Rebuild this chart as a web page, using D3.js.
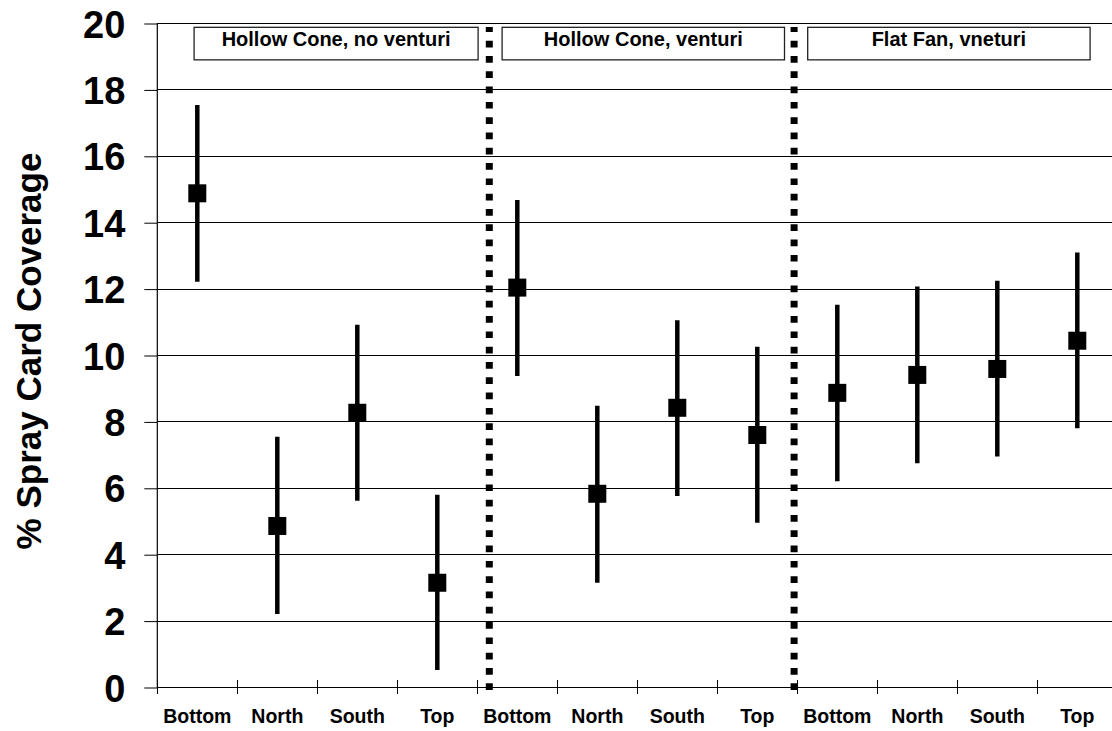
<!DOCTYPE html>
<html>
<head>
<meta charset="utf-8">
<script src="https://cdn.jsdelivr.net/npm/d3@7"></script>
<style>
    html, body { margin: 0; padding: 0; background: #fff; }
    #chart { width: 1112px; height: 731px; overflow: hidden; }
    text { font-family: Arial, "Liberation Sans", sans-serif; font-weight: bold; fill: #000; }
</style>
</head>
<body>
<div id="chart"></div>
<script>
// chart data
const groups = ['Hollow Cone, no venturi', 'Hollow Cone, venturi', 'Flat Fan, vneturi'];
const categories = ['Bottom', 'North', 'South', 'Top',
                    'Bottom', 'North', 'South', 'Top',
                    'Bottom', 'North', 'South', 'Top'];
const means = [14.87, 4.85, 8.26, 3.14, 12.03, 5.82, 8.41, 7.59, 8.86, 9.40, 9.58, 10.43];
const lows  = [12.21, 2.20, 5.61, 0.51, 9.37, 3.14, 5.75, 4.95, 6.20, 6.74, 6.94, 7.79];
const highs = [17.53, 7.54, 10.91, 5.79, 14.67, 8.47, 11.05, 10.25, 11.51, 12.06, 12.24, 13.09];
const yTicks = [0, 2, 4, 6, 8, 10, 12, 14, 16, 18, 20];
const yTitle = '% Spray Card Coverage';

class ErrorBarChart {
    constructor(containerId) {
        this.width = 1112;
        this.height = 731;
        this.left = 157.3;
        this.top = 23;
        this.bottom = 687;
        this.step = 80;

        this.svg = d3.select(`#${containerId}`)
            .append('svg')
            .attr('width', this.width)
            .attr('height', this.height);

        this.x = d3.scaleBand()
            .domain(d3.range(categories.length))
            .range([this.left, this.left + this.step * categories.length]);

        // continuous version of x, in category units, for boxes and separators
        this.xc = d3.scaleLinear()
            .domain([0, categories.length])
            .range([this.left, this.left + this.step * categories.length]);

        this.y = d3.scaleLinear()
            .domain([0, 20])
            .range([this.bottom, this.top]);
    }

    render() {
        this.drawGrid();
        this.drawAxes();
        this.drawSeparators();
        this.drawGroupBoxes();
        this.drawPoints();
        this.drawTitle();
    }

    drawGrid() {
        this.svg.append('g')
            .selectAll('line')
            .data(yTicks)
            .enter()
            .append('line')
            .attr('x1', this.left)
            .attr('x2', this.width)
            .attr('y1', d => Math.round(this.y(d)) + 0.5)
            .attr('y2', d => Math.round(this.y(d)) + 0.5)
            .attr('stroke', '#000')
            .attr('stroke-width', 1);
    }

    drawAxes() {
        const yAxis = d3.axisLeft(this.y)
            .tickValues(yTicks)
            .tickSize(13)
            .tickPadding(19)
            .tickFormat(d3.format('d'));

        const gy = this.svg.append('g')
            .attr('transform', `translate(${this.left},0.5)`)
            .call(yAxis);
        gy.select('.domain').remove();
        gy.selectAll('.tick line').attr('stroke', '#000');
        gy.selectAll('.tick text')
            .attr('font-size', '38px')
            .attr('dy', '0.36em');

        // y axis line
        this.svg.append('line')
            .attr('x1', this.left).attr('x2', this.left)
            .attr('y1', this.top).attr('y2', this.bottom + 1)
            .attr('stroke', '#000')
            .attr('stroke-width', 1.2);

        // category labels
        const xAxis = d3.axisBottom(this.x)
            .tickSize(0)
            .tickPadding(22.5)
            .tickFormat(i => categories[i]);

        const gx = this.svg.append('g')
            .attr('transform', `translate(0,${this.bottom})`)
            .call(xAxis);
        gx.select('.domain').remove();
        gx.selectAll('.tick text').attr('font-size', '19.5px');

        // tick marks on category boundaries
        this.svg.append('g')
            .selectAll('line')
            .data(d3.range(categories.length + 1))
            .enter()
            .append('line')
            .attr('x1', d => Math.round(this.xc(d)) + 0.5)
            .attr('x2', d => Math.round(this.xc(d)) + 0.5)
            .attr('y1', this.bottom - 7)
            .attr('y2', this.bottom + 7)
            .attr('stroke', '#000')
            .attr('stroke-width', 1);
    }

    drawSeparators() {
        const seps = [4.15, 7.96];
        this.svg.append('g')
            .selectAll('line')
            .data(seps)
            .enter()
            .append('line')
            .attr('x1', d => this.xc(d))
            .attr('x2', d => this.xc(d))
            .attr('y1', this.bottom + 3)
            .attr('y2', this.top + 4)
            .attr('stroke', '#000')
            .attr('stroke-width', 7)
            .attr('stroke-dasharray', '6.7 8.6');
    }

    drawGroupBoxes() {
        const spans = [[0.46, 4.01], [4.31, 7.84], [8.13, 11.66]];
        const yTop = this.y(19.87);
        const yBot = this.y(18.89);

        const box = this.svg.append('g')
            .selectAll('g')
            .data(groups)
            .enter()
            .append('g');

        box.append('rect')
            .attr('x', (d, i) => this.xc(spans[i][0]))
            .attr('y', yTop)
            .attr('width', (d, i) => this.xc(spans[i][1]) - this.xc(spans[i][0]))
            .attr('height', yBot - yTop)
            .attr('fill', '#fff')
            .attr('stroke', '#222')
            .attr('stroke-width', 1.3);

        box.append('text')
            .attr('x', (d, i) => (this.xc(spans[i][0]) + this.xc(spans[i][1])) / 2)
            .attr('y', yTop + 19)
            .attr('text-anchor', 'middle')
            .attr('font-size', '20px')
            .text(d => d);
    }

    drawPoints() {
        const cx = i => this.x(i) + this.x.bandwidth() / 2;
        const size = 18;

        this.svg.append('g')
            .selectAll('line')
            .data(means)
            .enter()
            .append('line')
            .attr('x1', (d, i) => cx(i))
            .attr('x2', (d, i) => cx(i))
            .attr('y1', (d, i) => this.y(lows[i]))
            .attr('y2', (d, i) => this.y(highs[i]))
            .attr('stroke', '#000')
            .attr('stroke-width', 4.5);

        this.svg.append('g')
            .selectAll('rect')
            .data(means)
            .enter()
            .append('rect')
            .attr('x', (d, i) => cx(i) - size / 2)
            .attr('y', d => this.y(d) - size / 2)
            .attr('width', size)
            .attr('height', size)
            .attr('fill', '#000');
    }

    drawTitle() {
        this.svg.append('text')
            .attr('transform', 'translate(41,351) rotate(-90)')
            .attr('text-anchor', 'middle')
            .attr('font-size', '35px')
            .text(yTitle);
    }
}

const chart = new ErrorBarChart('chart');
chart.render();
</script>
</body>
</html>
